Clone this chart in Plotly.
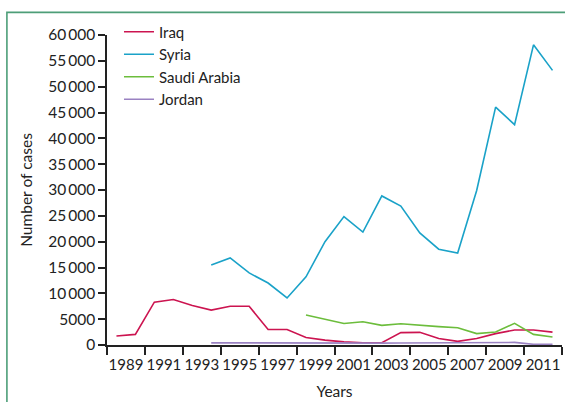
import plotly.graph_objects as go

# ---- data ----
iraq_years = list(range(1989, 2013))
iraq_cases = [1750, 2050, 8300, 8800, 7650, 6750, 7500, 7500, 3000, 3000, 1450,
              950, 600, 450, 450, 2400, 2450, 1250, 700, 1250, 2200, 2900, 2900, 2500]

syria_years = list(range(1994, 2013))
syria_cases = [15500, 16850, 13950, 12000, 9100, 13200, 20000, 24850, 21850, 28850,
               26900, 21700, 18550, 17800, 29900, 46050, 42650, 58100, 53150]

saudi_years = list(range(1999, 2013))
saudi_cases = [5800, 4950, 4150, 4500, 3800, 4100, 3800, 3550, 3350, 2200,
               2500, 4200, 2050, 1550]

jordan_years = list(range(1994, 2013))
jordan_cases = [420, 400, 390, 380, 370, 360, 350, 350, 360, 370,
                380, 390, 400, 420, 450, 480, 500, 130, 130]

series_names = ["Iraq", "Syria", "Saudi Arabia", "Jordan"]
series_colors = ["#cc1450", "#1aa2c8", "#6cbd3c", "#9a82c2"]

x_tick_years = [1989, 1991, 1993, 1995, 1997, 1999, 2001, 2003, 2005, 2007, 2009, 2011, 2013]
x_tick_text = ["1989", "1991", "1993", "1995", "1997", "1999", "2001", "2003",
               "2005", "2007", "2009", "2011", ""]

y_tick_vals = [0, 5000, 10000, 15000, 20000, 25000, 30000, 35000, 40000, 45000, 50000, 55000, 60000]
y_tick_text = ["0", "5000", "10\u2009000", "15\u2009000", "20\u2009000", "25\u2009000", "30\u2009000",
               "35\u2009000", "40\u2009000", "45\u2009000", "50\u2009000", "55\u2009000", "60\u2009000"]

FONT = "Lato"


def mid_year(years):
    return [f"{y}-07-02" for y in years]


fig = go.Figure()
for name, color, yrs, vals in zip(
        series_names, series_colors,
        [iraq_years, syria_years, saudi_years, jordan_years],
        [iraq_cases, syria_cases, saudi_cases, jordan_cases]):
    fig.add_trace(go.Scatter(x=mid_year(yrs), y=vals, mode="lines", name=name,
                             line=dict(color=color, width=1.6)))

# plot area geometry (pixels)
W, H = 565, 402
L, R, T, B = 107, 562.5, 34.5, 345.5
pw, ph = R - L, B - T


def px(x):
    return (x - L) / pw


def py(y):
    return (B - y) / ph


fig.update_layout(
    width=W, height=H,
    margin=dict(l=L, r=W - R, t=T, b=H - B, pad=0, autoexpand=False),
    paper_bgcolor="white", plot_bgcolor="white",
    font=dict(family=FONT, size=15.5, color="#222222"),
    showlegend=True,
    legend=dict(x=px(119), y=py(15), xanchor="left", yanchor="top",
                bgcolor="rgba(0,0,0,0)", font=dict(size=15),
                tracegroupgap=0, itemwidth=30),
    xaxis=dict(type="date", range=["1989-01-01", "2013-01-01"],
               tickvals=[f"{y}-01-01" for y in x_tick_years], ticktext=x_tick_text,
               ticklabelshift=19, ticklabelstandoff=-3, tickfont=dict(size=15),
               tickangle=0, ticks="outside", ticklen=8, tickwidth=1.5,
               tickcolor="#222", showline=True, linecolor="#222", linewidth=1.5,
               showgrid=False, zeroline=False, automargin=False,
               title=dict(text="Years", standoff=14, font=dict(size=15.5))),
    yaxis=dict(range=[0, 60000], tickvals=y_tick_vals, ticktext=y_tick_text,
               ticks="outside", ticklen=7, tickwidth=1.5, tickcolor="#222",
               showline=True, linecolor="#222", linewidth=1.5,
               showgrid=False, zeroline=False, automargin=False,
               title=dict(text="Number of cases", standoff=12, font=dict(size=15.5))),
    shapes=[dict(type="rect", xref="paper", yref="paper",
                 x0=px(6.8), x1=px(580), y0=py(420), y1=py(11.8),
                 line=dict(color="#4d9e78", width=1.6), fillcolor="rgba(0,0,0,0)",
                 layer="above")],
)

fig.write_html("out.html", config={"displayModeBar": False},
               post_script="document.body.style.margin='0';")
